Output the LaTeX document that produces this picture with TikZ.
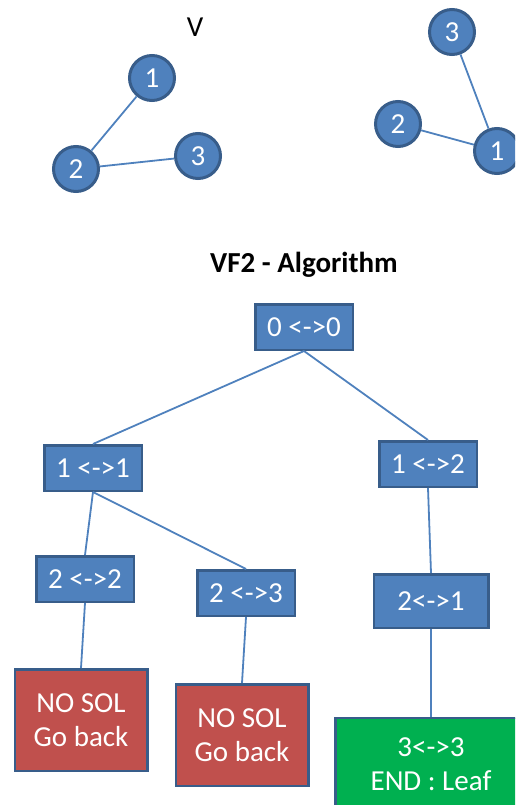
\documentclass[tikz,border=0pt]{standalone}
\usepackage{fontspec}
\setmainfont{Carlito}
\usepackage{xcolor}
\usepackage{tikz}

\definecolor{nodeblue}{HTML}{4F81BD}
\definecolor{nodeedge}{HTML}{385D8A}
\definecolor{solred}{HTML}{C0504D}
\definecolor{leafgreen}{HTML}{00B050}

\begin{document}
\begin{tikzpicture}[x=1pt, y=-1pt,
    vertex/.style={circle, draw=nodeedge, fill=nodeblue, line width=3pt, minimum size=45pt, inner sep=0pt, text=white, font=\fontsize{29}{33}\selectfont},
    state/.style={rectangle, draw=nodeedge, fill=nodeblue, line width=2.5pt, minimum width=97.5pt, minimum height=45.5pt, inner sep=0pt, text=white, font=\fontsize{29}{33}\selectfont},
    fail/.style={rectangle, draw=nodeedge, fill=solred, line width=2.5pt, minimum width=132.5pt, minimum height=101.5pt, inner sep=0pt, text=white, align=center, font=\fontsize{29}{34}\selectfont},
    leaf/.style={rectangle, draw=nodeedge, fill=leafgreen, line width=2.5pt, minimum width=191.5pt, minimum height=92.5pt, inner sep=0pt, text=white, align=center, font=\fontsize{29}{34}\selectfont},
    link/.style={draw=nodeblue, line width=1.8pt}]
    \clip (0,0) rectangle (515,805);

    % the two graphs
    \node (vlabel) at (195,27) [font=\fontsize{29}{33}\selectfont] {V};
    \node (a1) at (152,78) [vertex] {1};
    \node (a2) at (76,169) [vertex] {2};
    \node (a3) at (198,156) [vertex] {3};
    \node (b3) at (452,32) [vertex] {3};
    \node (b2) at (398,124) [vertex] {2};
    \node (b1) at (497,151) [vertex] {1};

    \draw [link] (a1) -- (a2);
    \draw [link] (a2) -- (a3);
    \draw [link] (b3) -- (b1);
    \draw [link] (b2) -- (b1);

    % search tree
    \node (title) at (304,265) [font=\bfseries\fontsize{29}{33}\selectfont] {VF2 - Algorithm};
    \node (s00) at (304,327) [state] {0 <->0};
    \node (s11) at (93,468) [state] {1 <->1};
    \node (s12) at (428,464) [state] {1 <->2};
    \node (s22) at (85,579) [state] {2 <->2};
    \node (s23) at (246,593) [state] {2 <->3};
    \node (s21) at (431,601) [state, minimum width=114.5pt, minimum height=53.5pt] {2<->1};
    \node (nosol1) at (81,720) [fail] {NO SOL\\Go back};
    \node (nosol2) at (242,735) [fail] {NO SOL\\Go back};
    \node (end) at (431,764) [leaf] {3<->3\\END : Leaf};

    \draw [link] (s00.south) -- (s11.north);
    \draw [link] (s00.south) -- (s12.north);
    \draw [link] (s11.south) -- (s22.north);
    \draw [link] (s11.south) -- (s23.north);
    \draw [link] (s12.south) -- (s21.north);
    \draw [link] (s22.south) -- (nosol1.north);
    \draw [link] (s23.south) -- (nosol2.north);
    \draw [link] (s21.south) -- (end.north);
\end{tikzpicture}
\end{document}
